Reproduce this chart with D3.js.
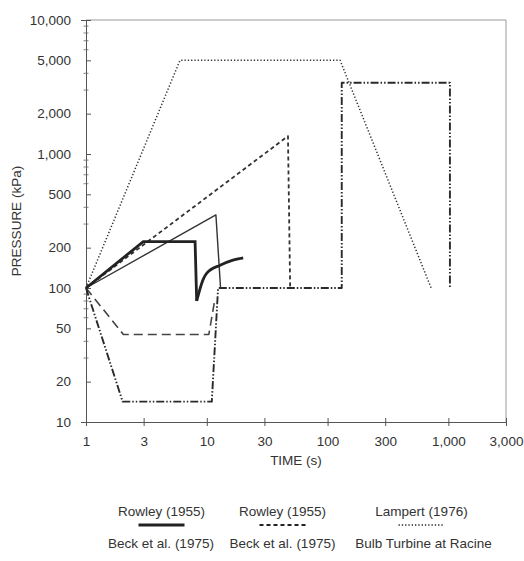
<!DOCTYPE html>
<html><head><meta charset="utf-8">
<script src="https://cdn.jsdelivr.net/npm/d3@7"></script>
<style>
html,body{margin:0;padding:0;background:#fff;}
svg{display:block;}
text{font-family:"Liberation Sans",Arial,Helvetica,sans-serif;fill:#333;}
</style></head>
<body>
<svg id="chart" width="524" height="561"></svg>
<script>
// Tick values
const xTicks = [1, 3, 10, 30, 100, 300, 1000, 3000];
const yTicks = [10, 20, 50, 100, 200, 500, 1000, 2000, 5000, 10000];
const yMinor = [30, 40, 60, 70, 80, 90, 300, 400, 600, 700, 800, 900, 3000, 4000, 6000, 7000, 8000, 9000];

// Series (time s, pressure kPa)
const rowleyThickT = [1, 2.98, 8.0, 8.25, 9.3, 10, 12.9, 16, 18.8, 20];
const rowleyThickP = [100, 222, 222, 80, 115, 129, 148, 160, 166, 168];
const rowleyDashT = [1, 47, 49];
const rowleyDashP = [100, 1360, 100];
const lampertT = [1, 6, 127, 720];
const lampertP = [100, 5000, 5000, 100];
const beckSolidT = [1, 11.9, 13.0];
const beckSolidP = [100, 351, 100];
const beckDashT = [1, 2.04, 10.4, 11.6];
const beckDashP = [100, 45, 45, 80];
const bulbT = [1, 2.01, 11.0, 12.4, 131, 131, 1030, 1030];
const bulbP = [100, 14.2, 14.2, 100, 100, 3400, 3400, 100];

const legendRow1 = ["Rowley (1955)", "Rowley (1955)", "Lampert (1976)"];
const legendRow2 = ["Beck et al. (1975)", "Beck et al. (1975)", "Bulb Turbine at Racine"];

const svg = d3.select("#chart");
const L = 86, R = 506, T = 20, B = 422;
const FS = 13.5;
const x = d3.scaleLog().domain([1, 3000]).range([L, R]);
const y = d3.scaleLog().domain([10, 10000]).range([B, T]);
const fmt = d3.format(",");

// frame (top & right)
svg.append("path").attr("d", `M${L},${T}H${R}V${B}`)
  .attr("fill", "none").attr("stroke", "#9a9a9a").attr("stroke-width", 1);

// x axis
const gx = svg.append("g").attr("transform", `translate(0,${B})`)
  .call(d3.axisBottom(x).tickValues(xTicks).tickFormat(fmt).tickSize(4).tickPadding(10));
gx.select(".domain").attr("stroke", "#555");
gx.selectAll(".tick line").attr("y1", -4).attr("stroke", "#555");
gx.selectAll(".tick text").attr("font-size", FS).attr("fill", "#333")
  .attr("font-family", "Liberation Sans, Arial, sans-serif");

// y axis
const gy = svg.append("g").attr("transform", `translate(${L},0)`)
  .call(d3.axisLeft(y).tickValues(yTicks).tickFormat(fmt).tickSize(5).tickPadding(10));
gy.select(".domain").attr("stroke", "#555");
gy.selectAll(".tick line").attr("x2", 5).attr("stroke", "#555");
gy.selectAll(".tick text").attr("font-size", FS).attr("fill", "#333")
  .attr("font-family", "Liberation Sans, Arial, sans-serif");
gy.selectAll(".minor").data(yMinor).enter().append("line")
  .attr("x1", -2.5).attr("x2", 2.5)
  .attr("y1", d => y(d)).attr("y2", d => y(d))
  .attr("stroke", "#666").attr("stroke-width", 0.8);

// axis titles
svg.append("text").attr("x", (L + R) / 2).attr("y", 465).attr("text-anchor", "middle")
  .attr("font-size", FS).text("TIME (s)");
svg.append("text").attr("transform", `translate(21,${(T + B) / 2}) rotate(-90)`)
  .attr("text-anchor", "middle").attr("font-size", 13.5).text("PRESSURE (kPa)");

// lines
const line = d3.line().x(d => x(d[0])).y(d => y(d[1]));
const zip = (a, b) => a.map((v, i) => [v, b[i]]);
const curveLine = d3.line().x(d => x(d[0])).y(d => y(d[1])).curve(d3.curveMonotoneX);

const series = [
  {t: lampertT, p: lampertP, w: 1.5, dash: "1.3,2", col: "#333"},
  {t: rowleyDashT, p: rowleyDashP, w: 1.8, dash: "4,3", col: "#333"},
  {t: beckDashT, p: beckDashP, w: 1.6, dash: "9,5", col: "#444"},
  {t: bulbT, p: bulbP, w: 1.9, dash: "8,2,1.5,2,1.5,2", col: "#2a2a2a"},
  {t: beckSolidT, p: beckSolidP, w: 1.4, dash: null, col: "#333"},
];
series.forEach(s => {
  svg.append("path").datum(zip(s.t, s.p)).attr("d", line)
    .attr("fill", "none").attr("stroke", s.col).attr("stroke-width", s.w)
    .attr("stroke-dasharray", s.dash).attr("stroke-linejoin", "round");
});
// thick Rowley: straight part then recovery curve
const thick = zip(rowleyThickT, rowleyThickP);
svg.append("path").datum(thick.slice(0, 4)).attr("d", line)
  .attr("fill", "none").attr("stroke", "#222").attr("stroke-width", 2.8).attr("stroke-linejoin", "miter");
svg.append("path").datum(thick.slice(3)).attr("d", curveLine)
  .attr("fill", "none").attr("stroke", "#222").attr("stroke-width", 2.8);

// legend
const lx = [161.5, 282.5, 421.5];
const samples = [
  {w: 2.8, dash: null}, {w: 1.8, dash: "4,3"}, {w: 1.3, dash: "1.3,2"}
];
legendRow1.forEach((t, i) => {
  svg.append("text").attr("x", lx[i]).attr("y", 516).attr("text-anchor", "middle")
    .attr("font-size", FS).text(t);
  svg.append("line").attr("x1", lx[i] - 23).attr("x2", lx[i] + 23)
    .attr("y1", 525).attr("y2", 525).attr("stroke", "#222")
    .attr("stroke-width", samples[i].w).attr("stroke-dasharray", samples[i].dash);
});
const lx2 = [161, 282.5, 423.5];
legendRow2.forEach((t, i) => {
  svg.append("text").attr("x", lx2[i]).attr("y", 548).attr("text-anchor", "middle")
    .attr("font-size", FS).text(t);
});
</script>
</body></html>
